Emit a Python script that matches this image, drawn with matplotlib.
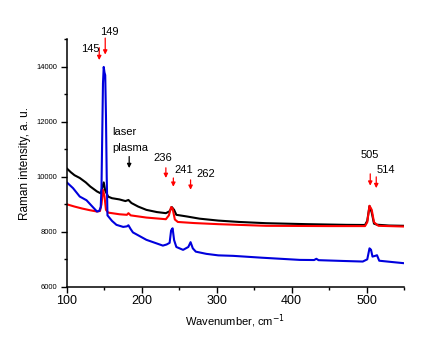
import numpy as np
import matplotlib.pyplot as plt

plt.rcParams['font.family'] = ['Liberation Sans', 'DejaVu Sans']

# black spectrum
x_black = [100, 105, 110, 117, 125, 131, 140, 145, 147, 149, 151, 155, 160, 170, 178, 182,
           186, 195, 206, 220, 232, 237, 240, 243, 246, 260, 277, 302, 330, 366, 420, 473,
           498, 501, 504, 507, 510, 514, 530, 550]
y_black = [10300, 10170, 10060, 9960, 9800, 9650, 9470, 9400, 9600, 9800, 9500, 9280, 9225,
           9180, 9120, 9160, 9050, 8920, 8800, 8720, 8680, 8750, 8900, 8800, 8620, 8560,
           8480, 8410, 8360, 8315, 8280, 8255, 8250, 8400, 8940, 8700, 8300, 8260, 8230, 8220]

# red spectrum
x_red = [100, 110, 120, 130, 140, 144, 146, 148, 150, 152, 155, 170, 180, 182, 185, 206, 232,
         236, 239, 241, 244, 248, 270, 302, 366, 450, 498, 501, 504, 507, 510, 513, 516, 550]
y_red = [9000, 8920, 8850, 8790, 8740, 8760, 9000, 9530, 9300, 8800, 8700, 8640, 8620, 8680,
         8600, 8520, 8460, 8600, 8900, 8850, 8450, 8360, 8320, 8280, 8220, 8210, 8210, 8350,
         8950, 8800, 8350, 8280, 8220, 8194]

# blue spectrum
x_blue = [100, 108, 117, 126, 135, 140, 143, 145, 146, 147, 148, 149, 150, 151, 152, 153, 154,
          160, 166, 175, 180, 182, 185, 188, 206, 228, 233, 237, 239, 241, 243, 246, 255, 262,
          265, 268, 272, 286, 302, 322, 360, 411, 430, 433, 436, 470, 495, 501, 504, 506, 508,
          512, 514, 517, 535, 550]
y_blue = [9793, 9590, 9284, 9150, 8885, 8740, 8760, 8900, 9600, 11500, 13400, 14000, 13800,
          13700, 12200, 10000, 8600, 8400, 8255, 8180, 8200, 8240, 8100, 7980, 7710, 7500,
          7540, 7600, 8050, 8130, 7700, 7450, 7345, 7450, 7625, 7400, 7280, 7200, 7145, 7127,
          7060, 6980, 6975, 7020, 6970, 6940, 6920, 7000, 7400, 7350, 7100, 7130, 7150, 6950,
          6900, 6860]

peak_labels = ['145', '149', '236', '241', '262', '505', '514']

fig = plt.figure(figsize=(4.27, 3.46), dpi=100)
ax = fig.add_axes([0.157, 0.171, 0.789, 0.715])

ax.plot(x_black, y_black, color='black', lw=1.5)
ax.plot(x_red, y_red, color='red', lw=1.5)
ax.plot(x_blue, y_blue, color='#0000dd', lw=1.5)

ax.set_xlim(100, 550)
ax.set_ylim(6000, 15000)
ax.set_xticks([100, 200, 300, 400, 500])
ax.set_xticks([150, 250, 350, 450, 550], minor=True)
ax.set_yticks([6000, 8000, 10000, 12000, 14000])
ax.set_yticks([7000, 9000, 11000, 13000, 15000], minor=True)
ax.tick_params(axis='x', which='major', direction='out', length=4, width=1, labelsize=9, pad=2)
ax.tick_params(axis='y', which='major', direction='out', length=4, width=1, labelsize=5.5, pad=3)
ax.tick_params(which='minor', direction='out', length=2.5, width=1)
for s in ['top', 'right']:
    ax.spines[s].set_visible(False)
for s in ['left', 'bottom']:
    ax.spines[s].set_linewidth(1.1)

ax.set_xlabel('Wavenumber, cm$^{-1}$', fontsize=8)
ax.set_ylabel('Raman intensity, a. u.', fontsize=8.5)

arr = dict(arrowstyle='-|>', color='red', lw=0.9, mutation_scale=6, shrinkA=0, shrinkB=0)
ax.annotate('', xy=(143, 14250), xytext=(143, 14700), arrowprops=arr, annotation_clip=False)
ax.annotate('', xy=(151, 14450), xytext=(151, 15050), arrowprops=arr, annotation_clip=False)
ax.annotate('', xy=(232, 9960), xytext=(232, 10330), arrowprops=arr)
ax.annotate('', xy=(242, 9640), xytext=(242, 9960), arrowprops=arr)
ax.annotate('', xy=(265, 9530), xytext=(265, 9890), arrowprops=arr)
ax.annotate('', xy=(505, 9680), xytext=(505, 10110), arrowprops=arr)
ax.annotate('', xy=(513, 9590), xytext=(513, 10000), arrowprops=arr)
ax.annotate('', xy=(183, 10320), xytext=(183, 10740),
            arrowprops=dict(arrowstyle='-|>', color='black', lw=0.9, mutation_scale=6,
                            shrinkA=0, shrinkB=0))

ax.text(143, 14650, peak_labels[0], fontsize=8, ha='right', va='center')
ax.text(144, 15280, peak_labels[1], fontsize=8, ha='left', va='center', clip_on=False)
ax.text(216, 10670, peak_labels[2], fontsize=8, ha='left', va='center')
ax.text(243, 10250, peak_labels[3], fontsize=8, ha='left', va='center')
ax.text(273, 10110, peak_labels[4], fontsize=8, ha='left', va='center')
ax.text(492, 10800, peak_labels[5], fontsize=8, ha='left', va='center')
ax.text(514, 10260, peak_labels[6], fontsize=8, ha='left', va='center')
ax.text(161, 11620, 'laser', fontsize=8, ha='left', va='center')
ax.text(161, 11040, 'plasma', fontsize=8, ha='left', va='center')

fig.savefig('out.png', dpi=100)
